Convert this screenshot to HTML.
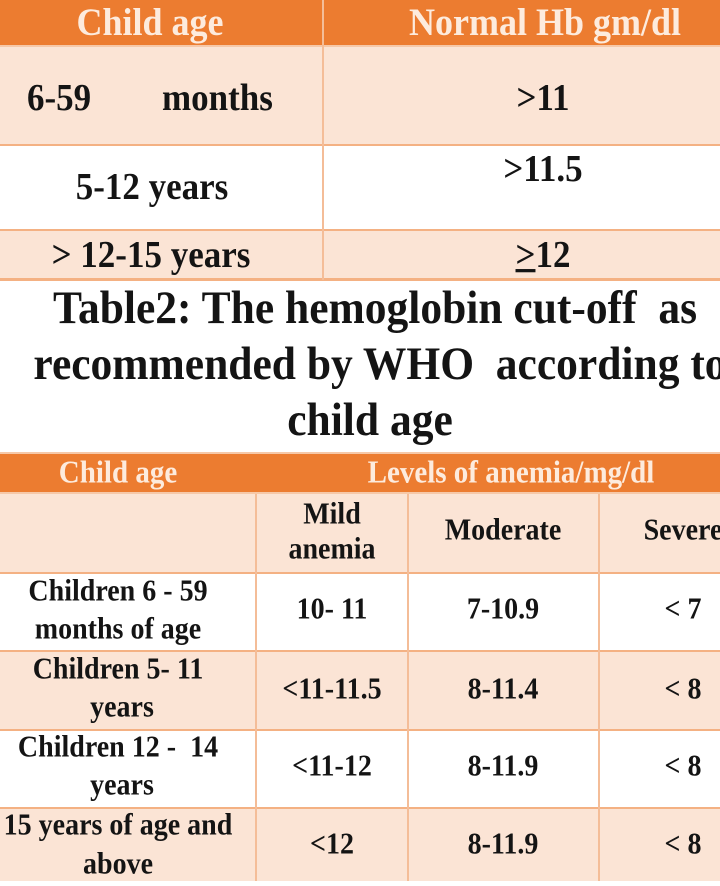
<!DOCTYPE html>
<html>
<head>
<meta charset="utf-8">
<style>
  html, body { margin:0; padding:0; }
  body { width:720px; height:881px; position:relative; overflow:hidden; background:#ffffff;
         font-family:"Liberation Serif", "Times New Roman", serif; font-weight:bold; color:#141414; }
  .r { position:absolute; }
  .t { position:absolute; white-space:nowrap; text-align:center; transform:scaleY(1.08); }
  .hdr { color:#FDEBDD; }
</style>
</head>
<body>
<!-- ===== Table 1 ===== -->
<div class="r" style="left:0;top:0;width:720px;height:46px;background:#EC7C30;"></div>
<div class="r" style="left:0;top:46px;width:720px;height:99px;background:#FBE4D5;"></div>
<div class="r" style="left:0;top:145px;width:720px;height:85px;background:#ffffff;"></div>
<div class="r" style="left:0;top:230px;width:720px;height:49px;background:#FBE4D5;"></div>
<!-- row lines -->
<div class="r" style="left:0;top:45px;width:720px;height:2px;background:#F6C8A8;"></div>
<div class="r" style="left:0;top:144px;width:720px;height:2px;background:#F4B183;"></div>
<div class="r" style="left:0;top:229px;width:720px;height:2px;background:#F4B183;"></div>
<div class="r" style="left:0;top:278px;width:720px;height:3px;background:#F4B183;"></div>
<!-- column divider -->
<div class="r" style="left:322px;top:0;width:2px;height:280px;background:#F4BD98;"></div>

<div class="t hdr" style="left:50px;width:200px;top:0;height:44px;line-height:44px;font-size:36px;">Child age</div>
<div class="t hdr" style="left:395px;width:300px;top:0;height:44px;line-height:44px;font-size:36px;">Normal Hb gm/dl</div>

<div class="t" style="left:27px;top:76px;height:44px;line-height:44px;font-size:35px;text-align:left;">6-59</div>
<div class="t" style="left:162px;top:76px;height:44px;line-height:44px;font-size:35px;text-align:left;">months</div>
<div class="t" style="left:443px;width:200px;top:76px;height:44px;line-height:44px;font-size:35px;">&gt;11</div>

<div class="t" style="left:52px;width:200px;top:165px;height:44px;line-height:44px;font-size:35px;">5-12 years</div>
<div class="t" style="left:443px;width:200px;top:147px;height:44px;line-height:44px;font-size:35px;">&gt;11.5</div>

<div class="t" style="left:31px;width:240px;top:233px;height:44px;line-height:44px;font-size:35px;">&gt; 12-15 years</div>
<div class="t" style="left:443px;width:200px;top:233px;height:44px;line-height:44px;font-size:35px;"><u>&gt;</u>12</div>

<!-- ===== Caption ===== -->
<div class="t" style="left:-25px;width:800px;top:280px;height:56px;line-height:56px;font-size:43.5px;">Table2: The hemoglobin cut-off&nbsp; as</div>
<div class="t" style="left:-20px;width:800px;top:336px;height:56px;line-height:56px;font-size:43.5px;">recommended by WHO&nbsp; according to</div>
<div class="t" style="left:-30px;width:800px;top:392px;height:56px;line-height:56px;font-size:43.5px;">child age</div>

<!-- ===== Table 2 ===== -->
<div class="r" style="left:0;top:453px;width:720px;height:40px;background:#EC7C30;"></div>
<div class="r" style="left:0;top:493px;width:720px;height:80px;background:#FBE4D5;"></div>
<div class="r" style="left:0;top:573px;width:720px;height:78px;background:#ffffff;"></div>
<div class="r" style="left:0;top:651px;width:720px;height:79px;background:#FBE4D5;"></div>
<div class="r" style="left:0;top:730px;width:720px;height:78px;background:#ffffff;"></div>
<div class="r" style="left:0;top:808px;width:720px;height:73px;background:#FBE4D5;"></div>
<!-- row lines -->
<div class="r" style="left:0;top:452px;width:720px;height:2px;background:#F6C8A8;"></div>
<div class="r" style="left:0;top:492px;width:720px;height:2px;background:#F6C8A8;"></div>
<div class="r" style="left:0;top:572px;width:720px;height:2px;background:#F4B183;"></div>
<div class="r" style="left:0;top:650px;width:720px;height:2px;background:#F4B183;"></div>
<div class="r" style="left:0;top:729px;width:720px;height:2px;background:#F4B183;"></div>
<div class="r" style="left:0;top:807px;width:720px;height:2px;background:#F4B183;"></div>
<!-- column dividers -->
<div class="r" style="left:255px;top:494px;width:2px;height:387px;background:#F4BD98;"></div>
<div class="r" style="left:407px;top:494px;width:2px;height:387px;background:#F4BD98;"></div>
<div class="r" style="left:598px;top:494px;width:2px;height:387px;background:#F4BD98;"></div>

<div class="t hdr" style="left:18px;width:200px;top:453px;height:40px;line-height:40px;font-size:29px;">Child age</div>
<div class="t hdr" style="left:311px;width:400px;top:453px;height:40px;line-height:40px;font-size:29px;">Levels of anemia/mg/dl</div>

<div class="t" style="left:257px;width:150px;top:497px;height:36px;line-height:36px;font-size:28px;">Mild</div>
<div class="t" style="left:257px;width:150px;top:532px;height:36px;line-height:36px;font-size:28px;">anemia</div>
<div class="t" style="left:403px;width:200px;top:513px;height:36px;line-height:36px;font-size:28px;">Moderate</div>
<div class="t" style="left:583px;width:200px;top:513px;height:36px;line-height:36px;font-size:28px;">Severe</div>

<!-- row 1 -->
<div class="t" style="left:-32px;width:300px;top:573px;height:38px;line-height:38px;font-size:28px;">Children 6 - 59</div>
<div class="t" style="left:-32px;width:300px;top:611px;height:38px;line-height:38px;font-size:28px;">months of age</div>
<div class="t" style="left:257px;width:150px;top:591px;height:38px;line-height:38px;font-size:28px;">10- 11</div>
<div class="t" style="left:403px;width:200px;top:591px;height:38px;line-height:38px;font-size:28px;">7-10.9</div>
<div class="t" style="left:583px;width:200px;top:591px;height:38px;line-height:38px;font-size:28px;">&lt; 7</div>

<!-- row 2 -->
<div class="t" style="left:-32px;width:300px;top:651px;height:38px;line-height:38px;font-size:28px;">Children 5- 11</div>
<div class="t" style="left:-28px;width:300px;top:689px;height:38px;line-height:38px;font-size:28px;">years</div>
<div class="t" style="left:257px;width:150px;top:671px;height:38px;line-height:38px;font-size:28px;">&lt;11-11.5</div>
<div class="t" style="left:403px;width:200px;top:671px;height:38px;line-height:38px;font-size:28px;">8-11.4</div>
<div class="t" style="left:583px;width:200px;top:671px;height:38px;line-height:38px;font-size:28px;">&lt; 8</div>

<!-- row 3 -->
<div class="t" style="left:-32px;width:300px;top:729px;height:38px;line-height:38px;font-size:28px;">Children 12 -&nbsp; 14</div>
<div class="t" style="left:-28px;width:300px;top:767px;height:38px;line-height:38px;font-size:28px;">years</div>
<div class="t" style="left:257px;width:150px;top:748px;height:38px;line-height:38px;font-size:28px;">&lt;11-12</div>
<div class="t" style="left:403px;width:200px;top:748px;height:38px;line-height:38px;font-size:28px;">8-11.9</div>
<div class="t" style="left:583px;width:200px;top:748px;height:38px;line-height:38px;font-size:28px;">&lt; 8</div>

<!-- row 4 -->
<div class="t" style="left:-32px;width:300px;top:807px;height:38px;line-height:38px;font-size:28px;">15 years of age and</div>
<div class="t" style="left:-32px;width:300px;top:846px;height:38px;line-height:38px;font-size:28px;">above</div>
<div class="t" style="left:257px;width:150px;top:826px;height:38px;line-height:38px;font-size:28px;">&lt;12</div>
<div class="t" style="left:403px;width:200px;top:826px;height:38px;line-height:38px;font-size:28px;">8-11.9</div>
<div class="t" style="left:583px;width:200px;top:826px;height:38px;line-height:38px;font-size:28px;">&lt; 8</div>
</body>
</html>
